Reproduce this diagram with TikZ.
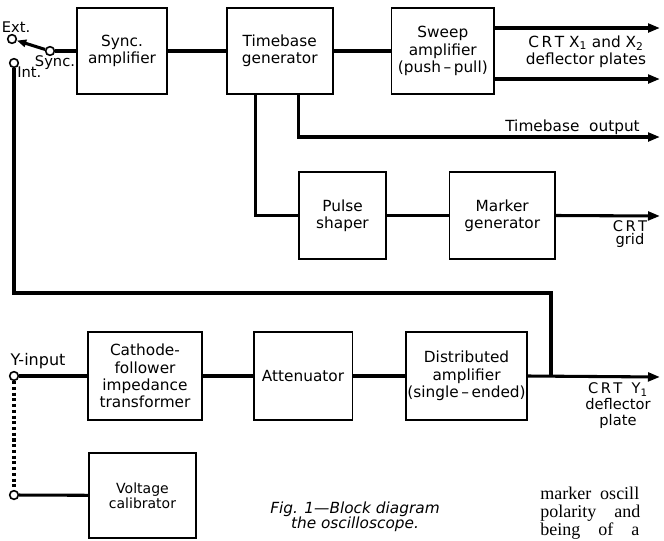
\documentclass[tikz,border=0pt]{standalone}
\usepackage{fontspec}
\setmainfont{DejaVu Sans}
\newfontfamily\bodyfont{Liberation Serif}
\usetikzlibrary{positioning, arrows.meta}

\begin{document}
\begin{tikzpicture}[
        x=0.75pt, y=-0.75pt,
        font=\fontsize{11.5}{13}\selectfont,
        box/.style = {rectangle, draw, line width=1.3pt, align=center, inner sep=1pt, minimum height=65pt},
        term/.style = {circle, draw, line width=1.2pt, fill=white, inner sep=0pt, minimum size=6.5pt},
        wire/.style = {line width=2.3pt},
        feed/.style = {wire, -{Triangle[length=9pt, width=6.5pt]}},
        arm/.style = {wire, -{Triangle[length=7pt, width=5.5pt]}},
        lbl/.style = {inner sep=0pt, align=center}
    ]
        \useasboundingbox (0,0) rectangle (664,540);

        % Timebase chain
        \node[box, minimum width=67.5pt] (sync) at (122,51) {Sync.\\amplifier};
        \node[box, minimum width=79.5pt, right=43.5pt of sync] (timebase) {Timebase\\generator};
        \node[box, minimum width=77pt, right=42.75pt of timebase] (sweep) {Sweep\\amplifier\\(push\,--\,pull)};

        % Marker chain
        \node[box, minimum width=65pt] (pulse) at (342.5,215.5) {Pulse\\shaper};
        \node[box, minimum width=79pt, right=46.5pt of pulse] (marker) {Marker\\generator};

        % Y chain
        \node[box, minimum width=85.5pt, minimum height=66pt] (cathode) at (145,376) {Cathode-\\follower\\impedance\\transformer};
        \node[box, minimum width=74pt, minimum height=66pt, right=37.5pt of cathode] (atten) {Attenuator};
        \node[box, minimum width=90pt, minimum height=66pt, right=39pt of atten] (distamp) {Distributed\\amplifier\\(single\,--\,ended)};
        \node[box, minimum width=80pt, minimum height=64pt, font=\fontsize{10.5}{11.5}\selectfont] (calib) at (142.5,495.5) {Voltage\\calibrator};

        % Terminals
        \node[term] (ext) at (12,39) {};
        \node[term] (pivot) at (50,51) {};
        \node[term] (int) at (14,63) {};
        \node[term] (yin) at (14,376) {};
        \node[term] (cal) at (14,495) {};

        % Free ends
        \coordinate (xone) at (660,28);
        \coordinate (xtwo) at (660,79);
        \coordinate (tbout) at (660,137);
        \coordinate (grid) at (660,216);
        \coordinate (yout) at (660,377);
        \coordinate (fbtop) at (551,293);
        \coordinate (ytap) at (551,377);

        % Arrows
        \draw[arm] (pivot) -- (ext);
        \draw[wire] (pivot) -- (sync);
        \draw[wire] (sync) -- (timebase);
        \draw[wire] (timebase) -- (sweep);
        \draw[feed] (sweep.east |- xone) -- (xone);
        \draw[feed] (sweep.east |- xtwo) -- (xtwo);
        \draw[feed] (timebase.south -| pulse.west) |- (tbout);
        \draw[wire] ([xshift=22.5pt]timebase.south west) |- (pulse.west);
        \draw[wire] (pulse) -- (marker);
        \draw[feed] (marker.east) -- (grid);
        \draw[wire] (int) |- (fbtop) -- (ytap);
        \draw[wire] (yin) -- (cathode);
        \draw[wire] (cathode) -- (atten);
        \draw[wire] (atten) -- (distamp);
        \draw[feed] (distamp.east) -- (yout);
        \draw[wire, dash pattern=on 2.3pt off 2pt] (yin) -- (cal);
        \draw[wire] (cal) -- (calib);

        % Labels
        \node[lbl, font=\fontsize{11}{12}\selectfont] (extlbl) at (16,27) {Ext.};
        \node[lbl, font=\fontsize{11}{12}\selectfont] (synclbl) at (55,63) {Sync.};
        \node[lbl, font=\fontsize{11}{12}\selectfont, anchor=west] (intlbl) at (17,72) {Int.};
        \node[lbl, font=\fontsize{12}{13}\selectfont] (yinlbl) at (38,361) {Y-input};
        \node[lbl, font=\fontsize{11.5}{13}\selectfont] (xlbl) at (586,52) {C\,R\,T\ X\textsubscript{1} and X\textsubscript{2}\\deflector plates};
        \node[lbl, anchor=east] (tblbl) at (640,127) {Timebase\ \ output};
        \node[lbl, font=\fontsize{11}{10}\selectfont] (gridlbl) at (630,234) {C\,R\,T\\grid};
        \node[lbl, font=\fontsize{11}{12}\selectfont] (ylbl) at (618,406) {C\,R\,T\ \ Y\textsubscript{1}\\deflector\\plate};

        % Caption and text
        \node[lbl, font=\fontsize{11.5}{11.5}\selectfont\itshape] (caption) at (355,517) {Fig. 1---Block diagram\\the oscilloscope.};
        \node[lbl, anchor=base west, font=\bodyfont\fontsize{13.5}{15}\selectfont] (body1) at (540,499) {marker\ \ oscill};
        \node[lbl, anchor=base west, font=\bodyfont\fontsize{13.5}{15}\selectfont] (body2) at (540,517) {polarity\ \ \ \ and};
        \node[lbl, anchor=base west, font=\bodyfont\fontsize{13.5}{15}\selectfont] (body3) at (540,535) {being\ \ \ \ of\ \ \ \ a};
    \end{tikzpicture}
\end{document}
